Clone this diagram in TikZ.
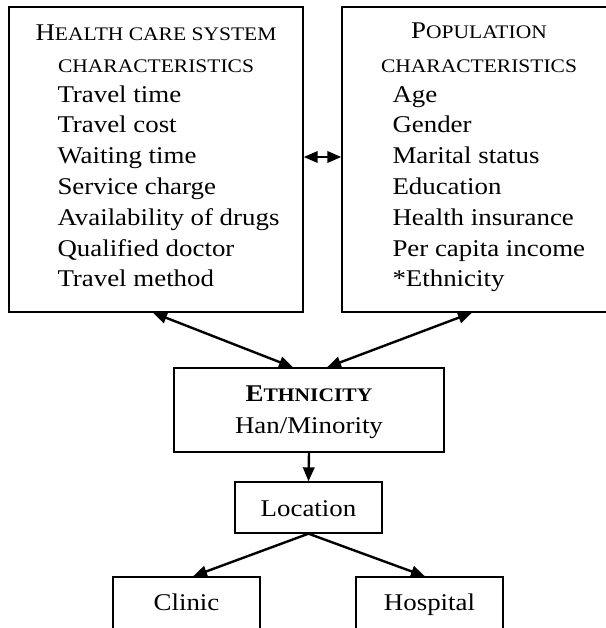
\documentclass[tikz,border=0pt]{standalone}
\usepackage{fontspec}
\setmainfont[FakeStretch=1.12]{Liberation Serif}
\usetikzlibrary{arrows.meta}
\newcommand{\smcaps}[1]{{\fontsize{14.4}{17}\selectfont #1}}
\tikzset{every picture/.style={line width=0.75pt}}
\tikzset{
	box/.style={draw, line width=1pt, inner sep=0pt, anchor=center},
	txt/.style={inner sep=0pt, font=\fontsize{18}{23}\selectfont},
	link/.style={line width=1.8pt, {Triangle[length=10.5pt,width=8.5pt]}-{Triangle[length=10.5pt,width=8.5pt]}},
	onelink/.style={line width=1.8pt, -{Triangle[length=10.5pt,width=8.5pt]}}}

\begin{document}
\begin{tikzpicture}[x=0.75pt,y=0.75pt,yscale=-1,xscale=1]
	\useasboundingbox (0,0) rectangle (606,628);
	\clip (0,0) rectangle (606,628);
	
	%Boxes
	\node [box, minimum width=220.5pt, minimum height=228.75pt] (hcs) at (156,159.5) {};
	\node [box, minimum width=201pt, minimum height=228.75pt] (pop) at (476,159.5) {};
	\node [box, minimum width=202.5pt, minimum height=63pt] (eth) at (309,410) {};
	\node [box, minimum width=110.25pt, minimum height=38.25pt] (loc) at (308.5,507.5) {};
	\node [box, minimum width=110.25pt, minimum height=51pt] (cli) at (186.5,611) {};
	\node [box, minimum width=110.25pt, minimum height=51pt] (hos) at (429.5,611) {};
	
	% Text Node
	\node [txt, anchor=base] (hcshead) at (156,40) {H\smcaps{EALTH CARE SYSTEM}};
	\node [txt, anchor=base] (hcshead2) at (156,72) {\smcaps{CHARACTERISTICS}};
	\foreach \t [count=\i from 0] in {Travel time, Travel cost, Waiting time, Service charge, Availability of drugs, Qualified doctor, Travel method}
		\node [txt, anchor=base west] (hcs-\i) at (57,102+30.8*\i) {\t};
	% Text Node
	\node [txt, anchor=base] (pophead) at (479,38) {P\smcaps{OPULATION}};
	\node [txt, anchor=base] (pophead2) at (479,72) {\smcaps{CHARACTERISTICS}};
	\foreach \t [count=\i from 0] in {Age, Gender, Marital status, Education, Health insurance, Per capita income, *Ethnicity}
		\node [txt, anchor=base west] (pop-\i) at (392,102+30.8*\i) {\t};
	% Text Node
	\node [txt, anchor=base] (ethhead) at (309,401) {\bfseries E\smcaps{THNICITY}};
	\node [txt, anchor=base] (ethtext) at (309,433) {Han/Minority};
	\node [txt, anchor=base] (loctext) at (308.5,516) {Location};
	\node [txt, anchor=base] (clitext) at (186.5,610) {Clinic};
	\node [txt, anchor=base] (hostext) at (429.5,610) {Hospital};
	
	%Arrows
	\draw [link] (hcs.east |- 0,157) -- (pop.west |- 0,157);
	\draw [link] (153,0 |- hcs.south) -- (293,0 |- eth.north);
	\draw [link] (472,0 |- pop.south) -- (327,0 |- eth.north);
	\draw [onelink] (eth.south) -- (loc.north);
	\draw [onelink] (loc.south) -- (193,0 |- cli.north);
	\draw [onelink] (loc.south) -- (425,0 |- hos.north);
	
\end{tikzpicture}
\end{document}
